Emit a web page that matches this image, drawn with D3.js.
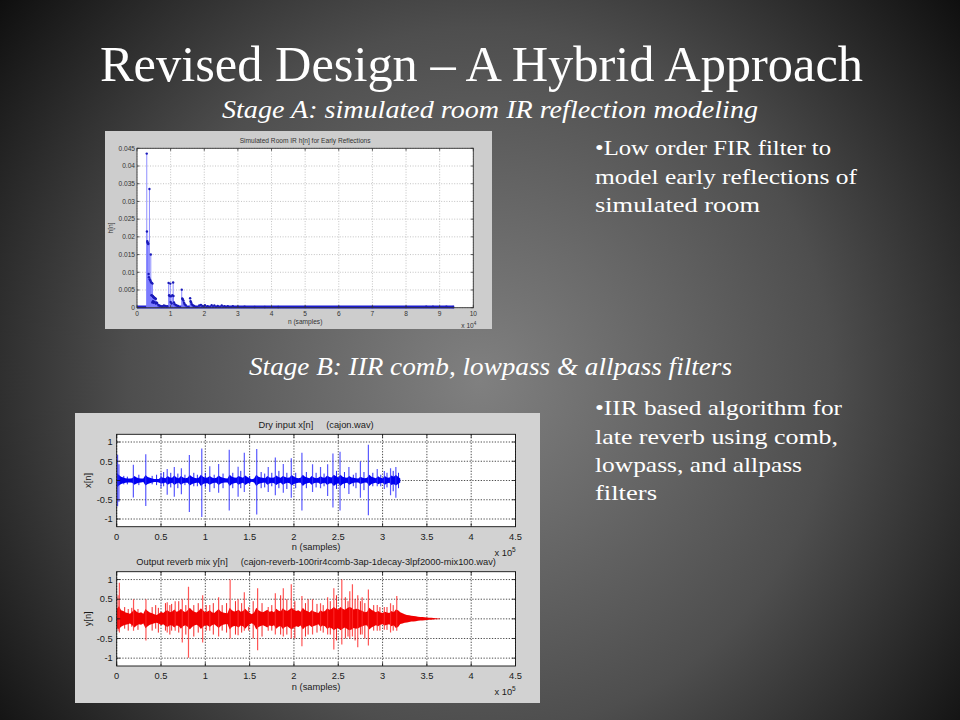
<!DOCTYPE html>
<html><head><meta charset="utf-8">
<script src="https://cdn.jsdelivr.net/npm/d3@7"></script>
<style>body{margin:0;background:#000}svg{display:block}text{white-space:pre}</style>
</head><body>
<svg id="s" width="960" height="720"></svg>
<script>
// ---------------- DATA ----------------
const slideTitle = "Revised Design \u2013 A Hybrid Approach";
const stageA = "Stage A: simulated room IR reflection modeling";
const stageB = "Stage B: IIR comb, lowpass & allpass filters";
const bulletA = ["\u2022Low order FIR filter to", "model early reflections of", "simulated room"];
const bulletB = ["\u2022IIR based algorithm for", "late reverb using comb,", "lowpass, and allpass", "filters"];

// Top chart: stem plot of simulated room IR
const irTitle = "Simulated Room IR h[n] for Early Reflections";
const irXTicks = [0,10000,20000,30000,40000,50000,60000,70000,80000,90000,100000];
const irXTickLabels = ["0","1","2","3","4","5","6","7","8","9","10"];
const irYTicks = [0,0.005,0.01,0.015,0.02,0.025,0.03,0.035,0.04,0.045];
const irYTickLabels = ["0","0.005","0.01","0.015","0.02","0.025","0.03","0.035","0.04","0.045"];
const irStemN = [2900,2950,3050,3150,3250,3350,3450,3550,3700,3800,3900,4000,4100,4200,4300,4400,4500,4600,4700,4800,4900,5000,5150,5300,5450,5600,4550,4750,4950,5200,5600,5800,6000,6300,6600,7000,7500,8000,8500,9000,
  9400,9550,9700,9900,10000,10100,10300,10500,10750,10850,11000,11200,11500,11800,12200,
  13300,13450,13600,13800,14000,14200,14500,15800,15950,16100,16300,16600,17000,
  18500,19000,19500,20200,21000,22200,23000,24000,25200,26000,27000,28500,30000,32000,35000,38000,42000,50000,60000,70000,80000,86000,88000,92000,94000];
const irStemV = [0.0435,0.0215,0.0188,0.0185,0.0182,0.018,0.0095,0.0086,0.0335,0.008,0.0078,0.0076,0.015,0.0072,0.0035,0.007,0.0034,0.0068,0.0033,0.0031,0.003,0.0029,0.0028,0.0027,0.0026,0.0025,0.0015,0.0018,0.0014,0.0016,0.0012,0.0015,0.0013,0.0008,0.0006,0.0005,0.0004,0.0006,0.0005,0.0004,
  0.007,0.0035,0.0033,0.0068,0.0016,0.0032,0.0012,0.0035,0.0071,0.0033,0.0015,0.001,0.0008,0.0006,0.0005,
  0.0051,0.0026,0.0024,0.002,0.0014,0.001,0.0007,0.0027,0.0018,0.0015,0.001,0.0007,0.0005,
  0.0006,0.0008,0.0005,0.0007,0.0004,0.0007,0.0006,0.0005,0.0006,0.0004,0.0004,0.0004,0.0003,0.0003,0.0002,0.0002,0.0002,0.0002,0.0002,0.0002,0.0002,0.0003,0.0003,0.0003,0.0002];
const irZeroRun = [0, 94300];   // samples drawn at h[n]=0

// Bottom charts: waveforms, envelope per 2500-sample bin
const waveXTicks = [0,50000,100000,150000,200000,250000,300000,350000,400000,450000];
const waveXTickLabels = ["0","0.5","1","1.5","2","2.5","3","3.5","4","4.5"];
const waveYTicks = [-1,-0.5,0,0.5,1];
const waveYTickLabels = ["-1","-0.5","0","0.5","1"];
const envStep = 2500;
const dryTitle = "Dry input x[n]     (cajon.wav)";
const wetTitle = "Output reverb mix y[n]     (cajon-reverb-100rir4comb-3ap-1decay-3lpf2000-mix100.wav)";

const dryUp = [0.2,0.14,0.1,0.08,0.06,0.05,0.05,0.06,0.12,0.08,
 0.06,0.05,0.05,0.14,0.09,0.07,0.05,0.04,0.04,0.04,
 0.09,0.07,0.06,0.12,0.08,0.07,0.13,0.08,0.06,0.12,
 0.08,0.06,0.07,0.14,0.1,0.07,0.06,0.07,0.15,0.1,
 0.07,0.08,0.12,0.08,0.06,0.07,0.13,0.09,0.07,0.06,
 0.05,0.15,0.1,0.08,0.07,0.12,0.09,0.07,0.13,0.09,
 0.06,0.03,0.05,0.15,0.1,0.08,0.07,0.06,0.12,0.08,
 0.07,0.08,0.13,0.09,0.07,0.12,0.09,0.07,0.08,0.14,
 0.1,0.07,0.06,0.07,0.15,0.1,0.08,0.06,0.12,0.08,
 0.06,0.07,0.11,0.08,0.07,0.13,0.09,0.08,0.15,0.11,
 0.08,0.15,0.1,0.08,0.07,0.12,0.08,0.07,0.06,0.05,
 0.1,0.07,0.06,0.07,0.15,0.1,0.08,0.06,0.11,0.07,
 0.06,0.12,0.08,0.07,0.13,0.1,0.14,0.1,0.05];
const dryDown = [-0.18,-0.13,-0.09,-0.07,-0.06,-0.05,-0.05,-0.06,-0.11,-0.08,
 -0.06,-0.05,-0.04,-0.13,-0.09,-0.07,-0.05,-0.04,-0.04,-0.05,
 -0.08,-0.07,-0.05,-0.11,-0.08,-0.06,-0.12,-0.08,-0.06,-0.11,
 -0.07,-0.06,-0.06,-0.13,-0.09,-0.07,-0.06,-0.06,-0.14,-0.09,
 -0.07,-0.07,-0.11,-0.08,-0.06,-0.06,-0.12,-0.08,-0.06,-0.05,
 -0.05,-0.14,-0.09,-0.07,-0.06,-0.11,-0.08,-0.06,-0.12,-0.08,
 -0.06,-0.03,-0.05,-0.14,-0.09,-0.07,-0.06,-0.05,-0.11,-0.08,
 -0.06,-0.07,-0.12,-0.08,-0.06,-0.11,-0.08,-0.06,-0.07,-0.13,
 -0.09,-0.07,-0.06,-0.06,-0.14,-0.09,-0.07,-0.06,-0.11,-0.07,
 -0.06,-0.06,-0.1,-0.07,-0.06,-0.12,-0.08,-0.07,-0.14,-0.1,
 -0.07,-0.14,-0.09,-0.07,-0.06,-0.11,-0.08,-0.06,-0.05,-0.05,
 -0.09,-0.07,-0.05,-0.06,-0.14,-0.09,-0.07,-0.06,-0.1,-0.07,
 -0.06,-0.11,-0.08,-0.06,-0.12,-0.09,-0.13,-0.09,-0.05];
const dryHitN    = [1000,2500,18800,32800,50000,57000,65000,73000,82000,96000,105000,115000,127000,137000,144000,158000,171000,179000,188000,197000,209000,221000,230000,238000,244000,252000,262000,275000,284000,294000,302000,309000,315000];
const dryHitUp   = [0.67,0.42,0.41,0.68,0.20,0.30,0.35,0.32,0.66,0.83,0.37,0.43,0.80,0.36,0.72,0.82,0.35,0.60,0.43,0.58,0.72,0.42,0.35,0.42,0.70,0.75,0.35,0.50,0.93,0.30,0.25,0.32,0.35];
const dryHitDown = [-0.67,-0.55,-0.44,-0.66,-0.20,-0.37,-0.42,-0.36,-0.82,-0.95,-0.30,-0.32,-0.78,-0.42,-0.30,-0.88,-0.30,-0.38,-0.32,-0.45,-0.78,-0.30,-0.20,-0.40,-0.70,-0.78,-0.35,-0.45,-0.90,-0.15,-0.22,-0.38,-0.45];
const dryMinorN    = [8000,12000,25000,40000,45000,53000,61000,69000,77000,87000,91000,100000,110000,120000,131000,140000,150000,163000,167000,175000,183000,192000,202000,214000,225000,234000,248000,257000,267000,270000,279000,289000,298000,305000,312000,318000];
const dryMinorUp   = [0.12,0.1,0.15,0.12,0.15,0.22,0.2,0.18,0.15,0.2,0.15,0.2,0.15,0.18,0.2,0.25,0.12,0.22,0.18,0.2,0.25,0.2,0.2,0.22,0.2,0.18,0.25,0.22,0.15,0.2,0.22,0.2,0.15,0.2,0.25,0.2];
const dryMinorDown = [-0.1,-0.1,-0.12,-0.1,-0.12,-0.15,-0.18,-0.2,-0.12,-0.15,-0.15,-0.18,-0.2,-0.2,-0.2,-0.2,-0.1,-0.2,-0.18,-0.15,-0.2,-0.22,-0.2,-0.2,-0.18,-0.15,-0.22,-0.2,-0.15,-0.2,-0.25,-0.15,-0.15,-0.18,-0.28,-0.2];

const wetUp = [0.25,0.32,0.22,0.2,0.16,0.15,0.13,0.18,0.24,0.18,
 0.15,0.17,0.13,0.25,0.2,0.16,0.14,0.12,0.1,0.13,
 0.18,0.15,0.2,0.22,0.17,0.19,0.24,0.18,0.2,0.26,
 0.2,0.17,0.22,0.28,0.22,0.18,0.16,0.2,0.27,0.21,
 0.17,0.19,0.22,0.17,0.15,0.2,0.25,0.19,0.16,0.15,
 0.14,0.28,0.22,0.19,0.2,0.23,0.18,0.2,0.26,0.2,
 0.15,0.12,0.16,0.28,0.22,0.19,0.17,0.2,0.23,0.18,
 0.2,0.17,0.26,0.21,0.19,0.27,0.22,0.2,0.24,0.28,
 0.23,0.2,0.22,0.18,0.28,0.22,0.2,0.17,0.22,0.19,
 0.17,0.15,0.22,0.18,0.2,0.27,0.23,0.25,0.3,0.26,
 0.24,0.3,0.26,0.23,0.27,0.3,0.28,0.24,0.26,0.25,
 0.22,0.2,0.17,0.18,0.28,0.23,0.2,0.17,0.2,0.16,
 0.15,0.18,0.16,0.15,0.2,0.17,0.24,0.22,
 0.17,0.14,0.12,0.1,0.09,0.08,0.07,0.065,0.055,0.05,0.045,0.04,0.035,0.03,0.025,0.02,0.015,0.012,0.008];
const wetDown = [-0.24,-0.26,-0.2,-0.17,-0.15,-0.14,-0.12,-0.16,-0.22,-0.17,
 -0.14,-0.15,-0.12,-0.24,-0.19,-0.15,-0.13,-0.11,-0.1,-0.12,
 -0.16,-0.14,-0.18,-0.21,-0.16,-0.17,-0.22,-0.17,-0.18,-0.25,
 -0.19,-0.16,-0.2,-0.27,-0.21,-0.17,-0.15,-0.18,-0.26,-0.2,
 -0.16,-0.17,-0.21,-0.16,-0.14,-0.18,-0.23,-0.18,-0.15,-0.14,
 -0.13,-0.27,-0.21,-0.18,-0.19,-0.22,-0.17,-0.19,-0.25,-0.19,
 -0.14,-0.11,-0.15,-0.27,-0.21,-0.18,-0.16,-0.19,-0.22,-0.17,
 -0.19,-0.16,-0.25,-0.2,-0.18,-0.26,-0.21,-0.19,-0.23,-0.27,
 -0.22,-0.19,-0.21,-0.17,-0.27,-0.21,-0.19,-0.16,-0.21,-0.18,
 -0.16,-0.14,-0.21,-0.17,-0.19,-0.26,-0.22,-0.24,-0.29,-0.25,
 -0.23,-0.29,-0.25,-0.22,-0.26,-0.29,-0.27,-0.23,-0.25,-0.24,
 -0.21,-0.19,-0.16,-0.17,-0.27,-0.22,-0.19,-0.16,-0.19,-0.15,
 -0.14,-0.17,-0.15,-0.14,-0.19,-0.16,-0.23,-0.21,
 -0.13,-0.12,-0.1,-0.09,-0.08,-0.07,-0.065,-0.06,-0.05,-0.045,-0.04,-0.035,-0.03,-0.025,-0.02,-0.016,-0.012,-0.008,-0.005];
const wetHitN    = [1500,3000,19000,33000,57000,66000,74000,81000,97000,105000,115000,128000,137000,144000,159000,171000,179000,188000,197000,209000,221000,230000,238000,245000,254000,263000,266000,272000,277000,284000,294000,302000,309000,316000];
const wetHitUp   = [0.60,0.92,0.50,0.50,0.42,0.45,0.50,0.82,0.60,0.35,0.55,1.00,0.50,0.68,0.78,0.30,0.65,0.78,0.88,0.58,0.50,0.40,0.55,0.78,1.00,0.70,0.88,0.60,0.55,0.75,0.35,0.30,0.40,0.58];
const wetHitDown = [-0.30,-0.35,-0.30,-0.55,-0.35,-0.30,-0.60,-0.99,-0.60,-0.30,-0.45,-0.50,-0.42,-0.30,-0.80,-0.30,-0.40,-0.45,-0.50,-0.70,-0.40,-0.30,-0.40,-0.78,-0.65,-0.50,-0.45,-0.72,-0.40,-0.68,-0.30,-0.28,-0.35,-0.30];
const wetMinorN    = [9000,13000,17000,24000,40000,44000,47000,55000,60000,62000,70000,78000,87000,92000,101000,109000,119000,124000,134000,141000,149000,154000,164000,175000,185000,192000,201000,213000,216000,226000,233000,241000,248000,258000,261000,269000,275000,280000,290000,297000,305000,312000];
const wetMinorUp   = [0.3,0.25,0.28,0.25,0.3,0.35,0.28,0.4,0.35,0.38,0.45,0.35,0.35,0.4,0.35,0.4,0.35,0.4,0.45,0.4,0.3,0.45,0.4,0.35,0.6,0.5,0.45,0.4,0.5,0.38,0.35,0.45,0.6,0.55,0.45,0.5,0.45,0.4,0.35,0.3,0.3,0.35];
const wetMinorDown = [-0.25,-0.3,-0.2,-0.28,-0.3,-0.25,-0.35,-0.3,-0.4,-0.3,-0.35,-0.4,-0.45,-0.35,-0.3,-0.4,-0.3,-0.35,-0.4,-0.35,-0.3,-0.5,-0.45,-0.3,-0.4,-0.4,-0.5,-0.45,-0.4,-0.35,-0.35,-0.4,-0.55,-0.5,-0.45,-0.55,-0.4,-0.5,-0.3,-0.3,-0.28,-0.3];

// ---------------- DRAW ----------------
const svg = d3.select('#s');
const defs = svg.append('defs');
const rg = defs.append('radialGradient').attr('id','bg').attr('gradientUnits','userSpaceOnUse')
  .attr('cx',480).attr('cy',380).attr('r',640);
rg.append('stop').attr('offset',0).attr('stop-color','#808080');
rg.append('stop').attr('offset',0.55).attr('stop-color','#4e4e4e');
rg.append('stop').attr('offset',1).attr('stop-color','#080808');
svg.append('rect').attr('width',960).attr('height',720).attr('fill','url(#bg)');

const serif = "'Liberation Serif', 'DejaVu Serif', serif";
const sans = "'Liberation Sans', Arial, sans-serif";

svg.append('text').attr('x',100).attr('y',81).attr('font-family',serif).attr('font-size',50)
  .attr('fill','#fff').attr('textLength',763).attr('lengthAdjust','spacingAndGlyphs').text(slideTitle);
svg.append('text').attr('x',222).attr('y',118).attr('font-family',serif).attr('font-style','italic').attr('font-size',25)
  .attr('fill','#fff').attr('textLength',536).attr('lengthAdjust','spacingAndGlyphs').text(stageA);
svg.append('text').attr('x',249).attr('y',375).attr('font-family',serif).attr('font-style','italic').attr('font-size',25)
  .attr('fill','#fff').attr('textLength',483).attr('lengthAdjust','spacingAndGlyphs').text(stageB);

const bAw = [236,262,165], bAy = [155,183.5,212];
bulletA.forEach((t,i)=>svg.append('text').attr('x',595).attr('y',bAy[i]).attr('font-family',serif).attr('font-size',22)
  .attr('fill','#fff').attr('textLength',bAw[i]).attr('lengthAdjust','spacingAndGlyphs').text(t));
const bBw = [247,243,207,62], bBy = [415,443.5,471.5,499.5];
bulletB.forEach((t,i)=>svg.append('text').attr('x',595).attr('y',bBy[i]).attr('font-family',serif).attr('font-size',22)
  .attr('fill','#fff').attr('textLength',bBw[i]).attr('lengthAdjust','spacingAndGlyphs').text(t));

// generic matlab-like axes
function axesFrame(g, x, y, o) {
  const [x0,x1] = x.range(), [yb,yt] = y.range();
  g.append('rect').attr('x',x0).attr('y',yt).attr('width',x1-x0).attr('height',yb-yt).attr('fill','#fff');
  const grid = g.append('g').attr('stroke',o.gridColor).attr('stroke-width',o.gridW).attr('stroke-dasharray',o.dash);
  o.xTicks.forEach(v=>grid.append('line').attr('x1',x(v)).attr('x2',x(v)).attr('y1',yt).attr('y2',yb));
  o.yTicks.forEach(v=>grid.append('line').attr('x1',x0).attr('x2',x1).attr('y1',y(v)).attr('y2',y(v)));
}
function axesBox(g, x, y, o) {
  const [x0,x1] = x.range(), [yb,yt] = y.range();
  const tk = g.append('g').attr('stroke',o.boxColor).attr('stroke-width',0.8);
  o.xTicks.forEach(v=>{ tk.append('line').attr('x1',x(v)).attr('x2',x(v)).attr('y1',yb).attr('y2',yb-o.tick);
                         tk.append('line').attr('x1',x(v)).attr('x2',x(v)).attr('y1',yt).attr('y2',yt+o.tick); });
  o.yTicks.forEach(v=>{ tk.append('line').attr('x1',x0).attr('x2',x0+o.tick).attr('y1',y(v)).attr('y2',y(v));
                         tk.append('line').attr('x1',x1).attr('x2',x1-o.tick).attr('y1',y(v)).attr('y2',y(v)); });
  g.append('rect').attr('x',x0).attr('y',yt).attr('width',x1-x0).attr('height',yb-yt)
    .attr('fill','none').attr('stroke',o.boxColor).attr('stroke-width',0.9);
  const tg = g.append('g').attr('font-family',sans).attr('font-size',o.fs).attr('fill',o.textColor);
  o.xTicks.forEach((v,i)=>tg.append('text').attr('x',x(v)).attr('y',yb+o.xlabDy).attr('text-anchor','middle').text(o.xLabels[i]));
  o.yTicks.forEach((v,i)=>tg.append('text').attr('x',x0-o.ylabDx).attr('y',y(v)+o.fs*0.35).attr('text-anchor','end').text(o.yLabels[i]));
  tg.append('text').attr('x',(x0+x1)/2).attr('y',yt-o.titleDy).attr('text-anchor','middle').attr('xml:space','preserve').text(o.title);
  tg.append('text').attr('x',(x0+x1)/2).attr('y',yb+o.nDy).attr('text-anchor','middle').text('n (samples)');
  tg.append('text').attr('transform',`translate(${o.ylabX},${(yt+yb)/2}) rotate(-90)`).attr('text-anchor','middle').text(o.yName);
  const ex = tg.append('text').attr('x',x1-o.expW).attr('y',yb+o.expDy);
  ex.append('tspan').text('x 10');
  ex.append('tspan').attr('dy',-o.fs*0.45).attr('font-size',o.fs*0.7).text(o.expo);
}

// ---- Top figure ----
const topFig = svg.append('g');
topFig.append('rect').attr('x',105).attr('y',131).attr('width',387).attr('height',198).attr('fill','#cdcdcd');
const xi = d3.scaleLinear().domain([0,100000]).range([137,473.3]);
const yi = d3.scaleLinear().domain([0,0.045]).range([307.7,148.3]);
const oTop = {xTicks:irXTicks, yTicks:irYTicks, xLabels:irXTickLabels, yLabels:irYTickLabels, gridColor:'#9a9a9a', gridW:0.6, dash:'1,1.6',
  boxColor:'#333', textColor:'#333', tick:2.5, fs:6.6, xlabDy:8, ylabDx:2, titleDy:5, nDy:16, ylabX:113, yName:'h[n]', expW:12, expDy:20, expo:'4', title:irTitle};
axesFrame(topFig, xi, yi, oTop);
const stems = irStemN.map((n,i)=>({n, v:irStemV[i]}));
topFig.append('line').attr('x1',xi(irZeroRun[0])).attr('x2',xi(irZeroRun[1])).attr('y1',yi(0)-0.6).attr('y2',yi(0)-0.6)
  .attr('stroke','#1c1cd0').attr('stroke-width',3);
topFig.append('g').selectAll('line').data(stems).join('line')
  .attr('x1',d=>xi(d.n)).attr('x2',d=>xi(d.n)).attr('y1',yi(0)).attr('y2',d=>yi(d.v))
  .attr('stroke','#7a7aff').attr('stroke-width',1).attr('stroke-opacity',0.85);
topFig.append('g').selectAll('circle').data(stems).join('circle')
  .attr('cx',d=>xi(d.n)).attr('cy',d=>yi(d.v)).attr('r',1.2).attr('fill','#1a1ab8');
axesBox(topFig, xi, yi, oTop);

// ---- Bottom figure ----
const botFig = svg.append('g');
botFig.append('rect').attr('x',75).attr('y',413).attr('width',465).attr('height',290).attr('fill','#d2d2d2');
const xw = d3.scaleLinear().domain([0,450000]).range([116.7,515.5]);
function wave(yRange, s, title, yName, body, spike, clipId) {
  const y = d3.scaleLinear().domain([-1.2,1.2]).range(yRange);
  const g = botFig.append('g');
  const o = {xTicks:waveXTicks, yTicks:waveYTicks, xLabels:waveXTickLabels, yLabels:waveYTickLabels, gridColor:'#222', gridW:0.8, dash:'1.3,1.5',
    boxColor:'#111', textColor:'#1a1a1a', tick:3.5, fs:9.3, xlabDy:13, ylabDx:4, titleDy:6.5, nDy:23.5, ylabX:91, yName, expW:21, expDy:29, expo:'5', title};
  axesFrame(g, xw, y, o);
  defs.append('clipPath').attr('id',clipId).append('rect').attr('x',xw.range()[0]).attr('y',yRange[1])
    .attr('width',xw.range()[1]-xw.range()[0]).attr('height',yRange[0]-yRange[1]);
  const cg = g.append('g').attr('clip-path',`url(#${clipId})`);
  const idx = d3.range(s.up.length);
  cg.append('path').datum(idx).attr('fill',body)
    .attr('d', d3.area().x(i=>xw(i*envStep)).y0(i=>y(s.down[i])).y1(i=>y(s.up[i])));
  cg.append('g').selectAll('line').data(s.mN.map((n,i)=>({n,u:s.mU[i],d:s.mD[i]}))).join('line')
    .attr('x1',d=>xw(d.n)).attr('x2',d=>xw(d.n)).attr('y1',d=>y(d.d)).attr('y2',d=>y(d.u))
    .attr('stroke',body).attr('stroke-width',1).attr('stroke-opacity',0.85);
  cg.append('g').selectAll('line').data(s.hN.map((n,i)=>({n,u:s.hU[i],d:s.hD[i]}))).join('line')
    .attr('x1',d=>xw(d.n)).attr('x2',d=>xw(d.n)).attr('y1',d=>y(d.d)).attr('y2',d=>y(d.u))
    .attr('stroke',spike).attr('stroke-width',1.2).attr('stroke-opacity',0.8);
  axesBox(g, xw, y, o);
}
wave([526.7,434.3], {up:dryUp, down:dryDown, hN:dryHitN, hU:dryHitUp, hD:dryHitDown, mN:dryMinorN, mU:dryMinorUp, mD:dryMinorDown},
  dryTitle, 'x[n]', '#0000f0', '#3030ff', 'c1');
wave([666,571.7], {up:wetUp, down:wetDown, hN:wetHitN, hU:wetHitUp, hD:wetHitDown, mN:wetMinorN, mU:wetMinorUp, mD:wetMinorDown},
  wetTitle, 'y[n]', '#f00000', '#ff2a2a', 'c2');
</script>
</body></html>
